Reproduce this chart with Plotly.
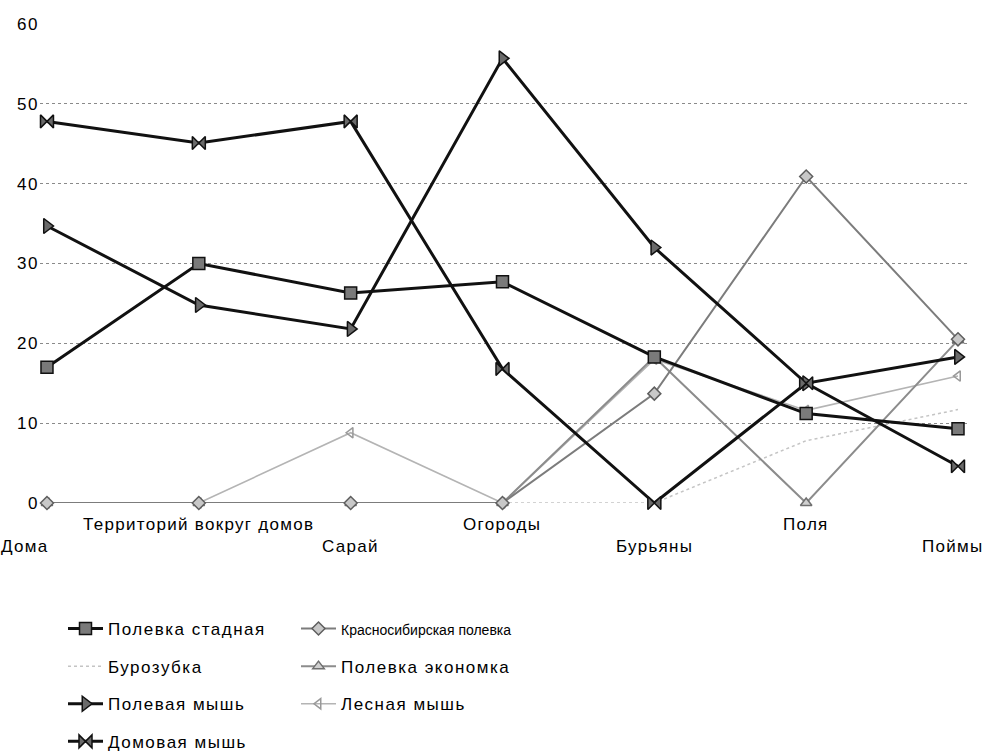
import plotly.graph_objects as go

# Habitat categories along the x axis
habitats = ["Дома", "Территорий вокруг домов", "Сарай", "Огороды", "Бурьяны", "Поля", "Поймы"]

# Share of each species by habitat
polevka_stadnaya = [17.0, 30.0, 26.3, 27.7, 18.3, 11.2, 9.3]
krasnosib_polevka = [0, 0, 0, 0, 13.7, 40.9, 20.5]
burozubka = [0, 0, 0, 0, 0, 7.8, 11.7]
polevka_ekonomka = [0, 0, 0, 0, 18.3, 0, 20.4]
polevaya_mysh = [34.7, 24.8, 21.8, 55.7, 32.0, 15.0, 18.3]
lesnaya_mysh = [0, 0, 8.8, 0, 18.0, 11.6, 15.9]
domovaya_mysh = [47.8, 45.1, 47.8, 16.8, 0, 15.0, 4.6]

y_ticks = [0, 10, 20, 30, 40, 50, 60]

FONT = "Liberation Sans, Arial, sans-serif"
W, H = 984, 753


def spaced(text, px=1.0):
    return f'<span style="letter-spacing:{px}px">{text}</span>'


fig = go.Figure()

# (name, values, line color, width, dash, marker symbol, marker fill, marker edge, size, legend, rank)
series = [
    ("Бурозубка", burozubka, "#c4c4c4", 1.5, "dot", None, None, None, 0, "legend", 2),
    ("Лесная мышь", lesnaya_mysh, "#b4b4b4", 1.6, "solid", "triangle-left-open", "#999999", "#999999", 9, "legend2", 3),
    ("Полевка экономка", polevka_ekonomka, "#8c8c8c", 2.0, "solid", "triangle-up", "#d0d0d0", "#6f6f6f", 10, "legend2", 2),
    ("Красносибирская полевка", krasnosib_polevka, "#7c7c7c", 2.0, "solid", "diamond", "#c8c8c8", "#5e5e5e", 10, "legend2", 1),
    ("Полевка стадная", polevka_stadnaya, "#111111", 3.0, "solid", "square", "#7a7a7a", "#111111", 12, "legend", 1),
    ("Полевая мышь", polevaya_mysh, "#111111", 3.0, "solid", "triangle-right", "#6a6a6a", "#111111", 13, "legend", 3),
    ("Домовая мышь", domovaya_mysh, "#111111", 3.0, "solid", "bowtie", "#6a6a6a", "#111111", 13, "legend", 4),
]

for i, (name, vals, color, width, dash, sym, fill, edge, size, leg, rank) in enumerate(series):
    if name.startswith("Красносибирская"):
        label = f'<span style="font-size:14px">{name}</span>'
    else:
        label = spaced(name, 1.5)
    kw = dict(
        x=habitats, y=vals, name=label, legend=leg, legendrank=rank,
        legendgroup=f"g{i}", cliponaxis=False,
        line=dict(color=color, width=width, dash=dash),
    )
    if sym is None:
        kw["mode"] = "lines"
    else:
        kw["mode"] = "lines+markers"
        kw["marker"] = dict(symbol=sym, size=size, color=fill, line=dict(color=edge, width=1.5))
    fig.add_trace(go.Scatter(**kw))

# Category labels staggered over two rows
annotations = []
for i, h in enumerate(habitats):
    upper = i % 2 == 1
    ann = dict(
        x=h, xref="x", y=-0.044 if upper else -0.09, yref="paper",
        text=spaced(h, 1.3), showarrow=False, xanchor="center", yanchor="middle",
        font=dict(family=FONT, size=17, color="black"),
    )
    if i == 0:
        ann["xanchor"] = "right"
        ann["xshift"] = 4
    if i == len(habitats) - 1:
        ann["xshift"] = -5
    annotations.append(ann)

legend_common = dict(
    orientation="v", xanchor="left", yanchor="top",
    xref="container", yref="container", y=1 - 611 / H,
    font=dict(family=FONT, size=17, color="black"),
    bgcolor="rgba(0,0,0,0)", traceorder="grouped", tracegroupgap=12.5,
    itemwidth=35,
)

fig.update_layout(
    width=W, height=H,
    margin=dict(l=40, r=14, t=24, b=250, autoexpand=False),
    paper_bgcolor="white", plot_bgcolor="white",
    font=dict(family=FONT, size=17, color="black"),
    showlegend=True,
    legend=dict(x=63 / W, **legend_common),
    legend2=dict(x=296 / W, **legend_common),
    annotations=annotations,
    xaxis=dict(
        type="category", range=[-0.046, 6.079], automargin=False,
        showticklabels=False, showgrid=False, zeroline=False, showline=False, ticks="",
    ),
    yaxis=dict(
        range=[0, 60], tickvals=y_ticks, ticktext=[spaced(str(v), 1.5) for v in y_ticks],
        automargin=False,
        showgrid=True, gridcolor="#8a8a8a", gridwidth=1, griddash="dot",
        zeroline=False, showline=False, ticks="",
        tickfont=dict(family=FONT, size=17, color="black"),
    ),
)

fig.write_html("out.html")
